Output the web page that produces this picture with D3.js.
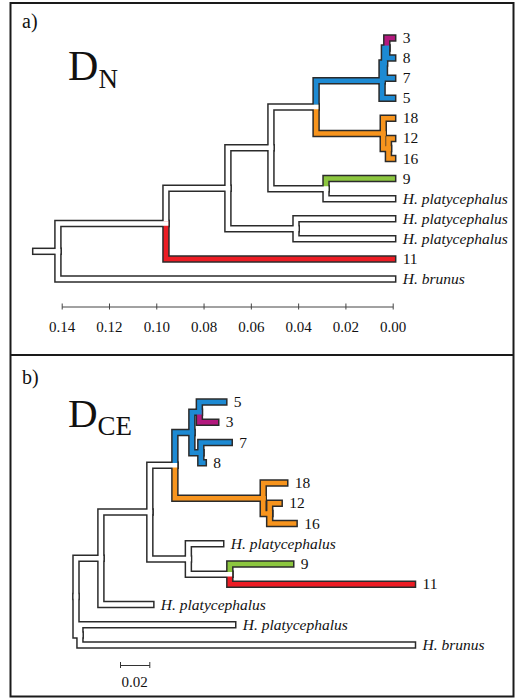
<!DOCTYPE html>
<html><head><meta charset="utf-8">
<script src="https://cdn.jsdelivr.net/npm/d3@7"></script>
<style>
body{margin:0;background:#fff}
svg{display:block}
</style>
</head><body>
<svg id="c" width="517" height="699"></svg>
<script>
// ---------- Panel a (D_N), ultrametric tree: heights = distance from present ----------
const tipOrderA = ["t3","t8","t7","t5","t18","t12","t16","t9","hp1","hp2","hp3","t11","hb"];
const tipLabelsA = ["3","8","7","5","18","12","16","9","H. platycephalus","H. platycephalus","H. platycephalus","11","H. brunus"];
const nodeIdsA     = ["stem","r","n1","n2","n3","n4","n5","n6","b1","b2","b3","o1","o2",
                      "t3","t8","t7","t5","t18","t12","t16","t9","hp1","hp2","hp3","t11","hb"];
const nodeParentsA = ["","stem","r","n1","n2","n2","n3","n3","n5","b1","b2","n5","o1",
                      "b3","b3","b2","b1","o1","o2","o2","n6","n6","n4","n4","n1","r"];
const nodeHeightsA = [0.151,0.1416,0.0959,0.0697,0.0515,0.0409,0.0324,0.0282,0.0045,0.0035,0.0025,0.0040,0.0018,
                      0,0,0,0,0,0,0,0,0,0,0,0,0];
const axisTicksA = [0.14,0.12,0.10,0.08,0.06,0.04,0.02,0.00];

// ---------- Panel b (D_CE), phylogram: depths = distance from root ----------
const tipOrderB = ["t5","t3","t7","t8","t18","t12","t16","hp0","t9","t11","hp1","hp2","hb"];
const tipLabelsB = ["5","3","7","8","18","12","16","H. platycephalus","9","11","H. platycephalus","H. platycephalus","H. brunus"];
const nodeIdsB     = ["R","N3","M","N2","P","N1","N911","B","S1","S2","O","Q",
                      "t5","t3","t7","t8","t18","t12","t16","hp0","t9","t11","hp1","hp2","hb"];
const nodeParentsB = ["","R","R","N3","N2","N2","N1","P","B","B","P","O",
                      "S1","S1","S2","S2","O","Q","Q","N1","N911","N911","N3","M","M"];
const nodeDepthsB  = [0,0.0170,0.0027,0.0504,0.0675,0.0767,0.1050,0.0791,0.0842,0.0852,0.1278,0.1322,
                      0.1009,0.0954,0.1046,0.0869,0.1425,0.1387,0.1489,0.0988,0.1466,0.2297,0.0511,0.1070,0.2297];
const scaleBarB = 0.02;

// ---------- clade colours (by branch) ----------
const cladePalette = {blue:"#1d8ad3", magenta:"#b3197e", orange:"#f7941d", green:"#8cc63f", red:"#ec1c24"};
const branchCladeA = {b1:"blue",b2:"blue",b3:"blue",t8:"blue",t7:"blue",t5:"blue",t3:"magenta",
                      o1:"orange",o2:"orange",t18:"orange",t12:"orange",t16:"orange",t9:"green",t11:"red"};
const branchCladeB = {B:"blue",S1:"blue",S2:"blue",t5:"blue",t7:"blue",t8:"blue",t3:"magenta",
                      O:"orange",Q:"orange",t18:"orange",t12:"orange",t16:"orange",t9:"green",t11:"red"};

const FONT = "'Liberation Serif','Times New Roman','DejaVu Serif',serif";
const svg = d3.select("#c");
const OUT = "#2b2b2b";

// frame
svg.append("rect").attr("x",10.5).attr("y",3).attr("width",503).attr("height",693.5)
  .attr("fill","none").attr("stroke","#1a1a1a").attr("stroke-width",2);
svg.append("line").attr("x1",10.5).attr("x2",513.5).attr("y1",355).attr("y2",355)
  .attr("stroke","#1a1a1a").attr("stroke-width",2);

function addText(g, x, y, size, str, anchor) {
  return g.append("text").attr("x",x).attr("y",y).attr("text-anchor",anchor||"start")
    .style("font-family",FONT).style("font-size",size+"px").style("fill","#111").text(str);
}

function drawTree(g, ids, parents, values, xs, ys, tipOrder, tipLabels, clades) {
  const rows = ids.map((id,i)=>({id, parent: parents[i] || null, v: values[i]}));
  const root = d3.stratify().id(d=>d.id).parentId(d=>d.parent)(rows);
  root.eachAfter(n=>{
    n.px = xs(n.data.v);
    n.py = n.children ? d3.mean(n.children, c=>c.py) : ys(n.id);
  });
  const links = root.links();
  const pathOf = l => {
    const s=l.source, t=l.target;
    return (Math.abs(s.py-t.py)<0.01) ? `M${s.px},${s.py}H${t.px}` : `M${s.px},${s.py}V${t.py}H${t.px}`;
  };
  g.append("g").selectAll("path").data(links).join("path")
    .attr("d",pathOf).attr("fill","none").attr("stroke",OUT)
    .attr("stroke-width",7.5).attr("stroke-linecap","square").attr("stroke-linejoin","miter");
  const ordered = links.slice().sort((a,b)=>b.target.depth-a.target.depth);
  g.append("g").selectAll("path").data(ordered).join("path")
    .attr("d",pathOf).attr("fill","none")
    .attr("stroke",l=>clades[l.target.id] ? cladePalette[clades[l.target.id]] : "#ffffff")
    .attr("stroke-width",4.5).attr("stroke-linecap","square").attr("stroke-linejoin","miter");
  root.leaves().forEach(d=>{
    const lab = tipLabels[tipOrder.indexOf(d.id)];
    addText(g, d.px+10, d.py+5, 15.5, lab).style("font-style", lab.startsWith("H.") ? "italic" : "normal");
  });
}

// ----- Panel a -----
const gA = svg.append("g");
const xA = d3.scaleLinear().domain([0.14,0]).range([61.7,392.7]);
const yA = d3.scalePoint().domain(tipOrderA).range([38,279]);
drawTree(gA, nodeIdsA, nodeParentsA, nodeHeightsA, xA, yA, tipOrderA, tipLabelsA, branchCladeA);

const axA = gA.append("g").attr("transform","translate(0,306.5)")
  .call(d3.axisBottom(xA).tickValues(axisTicksA).tickFormat(d3.format(".2f")).tickSizeOuter(0).tickSizeInner(3).tickPadding(12));
axA.select(".domain").attr("stroke","#444");
axA.selectAll(".tick line").attr("y1",-3).attr("y2",3).attr("stroke","#444");
axA.selectAll(".tick text").style("font-family",FONT).style("font-size","15px").style("fill","#111");

addText(gA, 22, 28, 20, "a)");
addText(gA, 68, 80, 42, "D");
addText(gA, 98.5, 88, 27, "N");

// ----- Panel b -----
const gB = svg.append("g");
const xB = d3.scaleLinear().domain([0,scaleBarB]).range([76,105.3]);
const yB = d3.scalePoint().domain(tipOrderB).range([402,645]);
drawTree(gB, nodeIdsB, nodeParentsB, nodeDepthsB, xB, yB, tipOrderB, tipLabelsB, branchCladeB);

const sbX0 = 120, sbY = 665;
const sb = d3.scaleLinear().domain([0,scaleBarB]).range([sbX0, sbX0 + (xB(scaleBarB)-xB(0))]);
const axB = gB.append("g").attr("transform",`translate(0,${sbY})`)
  .call(d3.axisBottom(sb).tickValues([0,scaleBarB]).tickFormat("").tickSizeOuter(0).tickSizeInner(3));
axB.select(".domain").attr("stroke","#333");
axB.selectAll(".tick line").attr("y1",-3).attr("y2",3).attr("stroke","#333");
addText(gB, sb(scaleBarB/2), 687, 15, d3.format(".2f")(scaleBarB), "middle");

addText(gB, 22, 384, 20, "b)");
addText(gB, 68, 427, 41, "D");
addText(gB, 97.5, 435, 27, "CE");
</script>
</body></html>
